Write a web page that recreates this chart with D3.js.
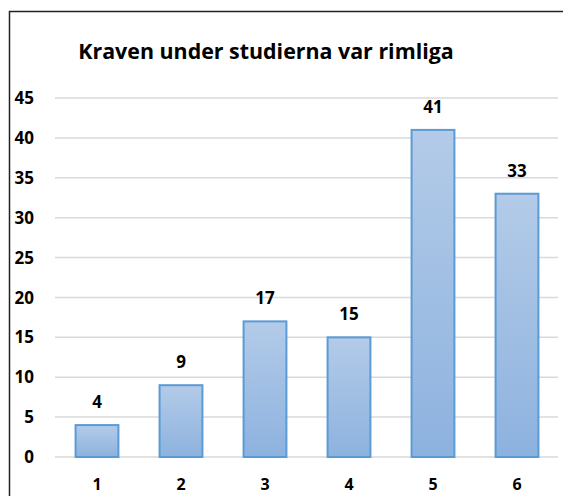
<!DOCTYPE html>
<html>
<head>
<meta charset="utf-8">
<script src="https://cdn.jsdelivr.net/npm/d3@7"></script>
<style>
  body { margin: 0; background: #fff; }
  text { font-family: "Open Sans", sans-serif; font-weight: bold; fill: #000; }
</style>
</head>
<body>
<script>
var categories = ["1", "2", "3", "4", "5", "6"];
var values = [4, 9, 17, 15, 41, 33];
var yTicks = [0, 5, 10, 15, 20, 25, 30, 35, 40, 45];
var title = "Kraven under studierna var rimliga";

const w = 563,
      h = 496,
      plotLeft = 55,
      plotRight = 559,
      plotTop = 98,
      plotBottom = 457;

const svg = d3.select("body")
              .append("svg")
              .attr("width", w)
              .attr("height", h);

const defs = svg.append("defs");
const grad = defs.append("linearGradient")
    .attr("id", "barGrad")
    .attr("x1", 0).attr("y1", 0).attr("x2", 0).attr("y2", 1);
grad.append("stop").attr("offset", "0%").attr("stop-color", "#b3cbe8");
grad.append("stop").attr("offset", "100%").attr("stop-color", "#8db2df");

// outer frame
svg.append("path")
    .attr("d", "M9.5," + h + "V11.5H" + w)
    .attr("fill", "none")
    .attr("stroke", "#222")
    .attr("stroke-width", 1.5);

const xScale = d3.scaleBand()
                 .domain(categories)
                 .range([plotLeft, plotRight])
                 .paddingInner(0.49)
                 .paddingOuter(0.245);

const yScale = d3.scaleLinear()
                 .domain([0, 45])
                 .range([plotBottom, plotTop]);

// gridlines
svg.append("g")
    .selectAll("line")
    .data(yTicks)
    .enter()
    .append("line")
    .attr("x1", plotLeft)
    .attr("x2", plotRight - 1)
    .attr("y1", d => yScale(d))
    .attr("y2", d => yScale(d))
    .attr("stroke", "#d9d9d9")
    .attr("stroke-width", 1.5);

// y labels
svg.append("g")
    .selectAll("text")
    .data(yTicks)
    .enter()
    .append("text")
    .attr("x", 34)
    .attr("y", d => yScale(d))
    .attr("dy", "0.36em")
    .attr("text-anchor", "end")
    .attr("font-size", 17)
    .text(d => d);

// bars
svg.append("g")
    .selectAll("rect")
    .data(values)
    .enter()
    .append("rect")
    .attr("x", (d, i) => xScale(categories[i]))
    .attr("y", d => yScale(d))
    .attr("width", xScale.bandwidth())
    .attr("height", d => plotBottom - yScale(d))
    .attr("fill", "url(#barGrad)")
    .attr("stroke", "#5b9bd5")
    .attr("stroke-width", 2);

// value labels
svg.append("g")
    .selectAll("text")
    .data(values)
    .enter()
    .append("text")
    .attr("x", (d, i) => xScale(categories[i]) + xScale.bandwidth() / 2)
    .attr("y", d => yScale(d) - 17)
    .attr("text-anchor", "middle")
    .attr("font-size", 17)
    .text(d => d);

// x labels
svg.append("g")
    .selectAll("text")
    .data(categories)
    .enter()
    .append("text")
    .attr("x", d => xScale(d) + xScale.bandwidth() / 2)
    .attr("y", 490)
    .attr("text-anchor", "middle")
    .attr("font-size", 16)
    .text(d => d);

svg.append("text")
    .attr("x", 266)
    .attr("y", 59)
    .attr("text-anchor", "middle")
    .attr("font-size", 21.4)
    .text(title);
</script>
</body>
</html>
